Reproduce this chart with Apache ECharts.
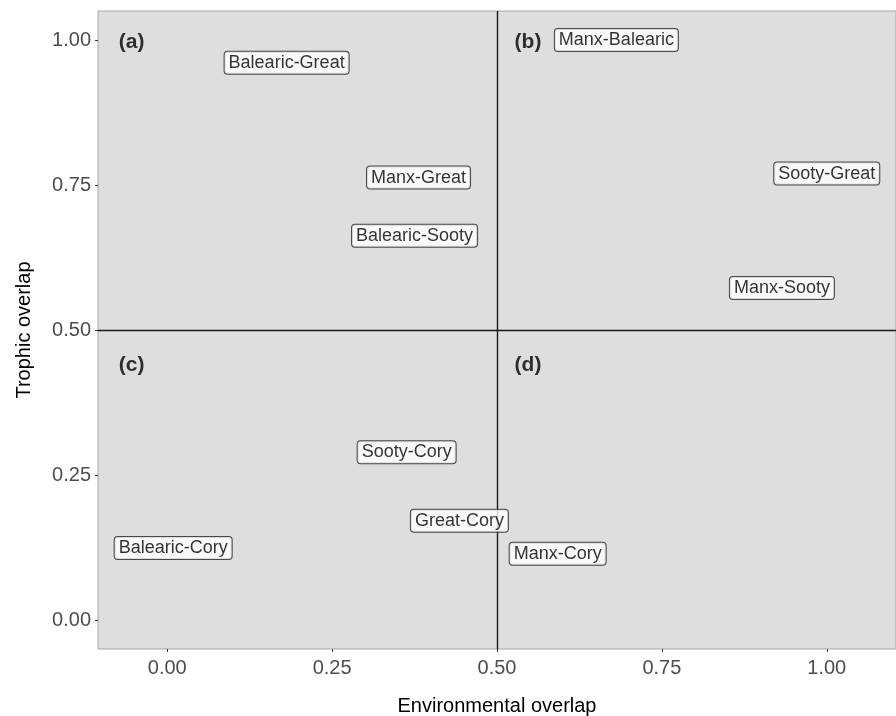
<!DOCTYPE html>
<html>
<head>
<meta charset="utf-8">
<script src="https://cdn.jsdelivr.net/npm/echarts@6/dist/echarts.min.js"></script>
<style>
	html, body {margin:0; padding:0; background:#fff;}
	#overlapChart {width:896px; height:716px;}
</style>
</head>
<body>
<div id="overlapChart"></div>
<script>
// species pairs and their overlap values
var pairNames = ['Balearic-Great', 'Manx-Great', 'Balearic-Sooty', 'Manx-Balearic', 'Sooty-Great',
	'Manx-Sooty', 'Sooty-Cory', 'Great-Cory', 'Balearic-Cory', 'Manx-Cory'];
var envOverlap = [0.181, 0.381, 0.375, 0.681, 1.00, 0.932, 0.363, 0.443, 0.009, 0.592];
var trophicOverlap = [0.961, 0.763, 0.663, 1.00, 0.770, 0.573, 0.290, 0.172, 0.125, 0.115];

// quadrant tags
var panelTags = ['(a)', '(b)', '(c)', '(d)'];
var tagX = [-0.054, 0.547, -0.054, 0.547];
var tagY = [0.997, 0.997, 0.44, 0.44];

var tickValues = [0, 0.25, 0.5, 0.75, 1];
var fontName = 'Liberation Sans, Arial, sans-serif';

var pairData = [];
for (var i = 0; i < pairNames.length; i++) {
	pairData.push({name: pairNames[i], value: [envOverlap[i], trophicOverlap[i]]});
}
var tagData = [];
for (var i = 0; i < panelTags.length; i++) {
	tagData.push({name: panelTags[i], value: [tagX[i], tagY[i]]});
}

var myChart = echarts.init(document.getElementById('overlapChart'));
var option = {
	animation: false,
	textStyle: {fontFamily: fontName},
	grid: {
		left: 98, right: 0, top: 11, bottom: 67,
		outerBoundsMode: 'none',
		containLabel: false,
		show: true,
		backgroundColor: '#dedede',
		borderColor: '#a6a6a6',
		borderWidth: 1
	},
	xAxis: {
		type: 'value',
		min: -0.105, max: 1.105,
		name: 'Environmental overlap',
		nameLocation: 'middle',
		nameGap: 47,
		nameTextStyle: {fontSize: 20, color: '#000', fontFamily: fontName},
		axisLine: {show: false, onZero: false},
		axisTick: {show: true, length: 3, lineStyle: {color: '#333'}, customValues: tickValues},
		axisLabel: {
			fontSize: 20, color: '#4d4d4d', margin: 9, fontFamily: fontName,
			customValues: tickValues,
			formatter: function (v) { return v.toFixed(2); }
		},
		splitLine: {show: false}
	},
	yAxis: {
		type: 'value',
		min: -0.049, max: 1.05,
		name: 'Trophic overlap',
		nameLocation: 'middle',
		nameGap: 64,
		nameTextStyle: {fontSize: 20, color: '#000', fontFamily: fontName},
		axisLine: {show: false, onZero: false},
		axisTick: {show: true, length: 3, lineStyle: {color: '#333'}, customValues: tickValues},
		axisLabel: {
			fontSize: 20, color: '#4d4d4d', margin: 7, fontFamily: fontName,
			customValues: tickValues,
			formatter: function (v) { return v.toFixed(2); }
		},
		splitLine: {show: false}
	},
	series: [
		{
			type: 'scatter',
			data: pairData,
			symbolSize: 1,
			itemStyle: {color: 'rgba(0,0,0,0)'},
			silent: true,
			markLine: {
				silent: true,
				symbol: ['none', 'none'],
				label: {show: false},
				lineStyle: {color: '#1a1a1a', width: 1.4, type: 'solid'},
				data: [{xAxis: 0.5}, {yAxis: 0.5}]
			},
			label: {
				show: true,
				position: 'inside',
				formatter: '{b}',
				fontSize: 18,
				lineHeight: 19,
				color: '#000',
				fontFamily: fontName,
				backgroundColor: '#fff',
				borderColor: '#222',
				borderWidth: 1,
				borderRadius: 3,
				padding: [2, 4, 1, 4]
			},
			z: 5
		},
		{
			type: 'scatter',
			data: tagData,
			symbolSize: 1,
			itemStyle: {color: 'rgba(0,0,0,0)'},
			silent: true,
			label: {
				show: true,
				position: 'inside',
				formatter: '{b}',
				fontSize: 21,
				fontWeight: 'bold',
				color: '#000',
				fontFamily: fontName
			}
		}
	]
};
myChart.setOption(option);
</script>
</body>
</html>
